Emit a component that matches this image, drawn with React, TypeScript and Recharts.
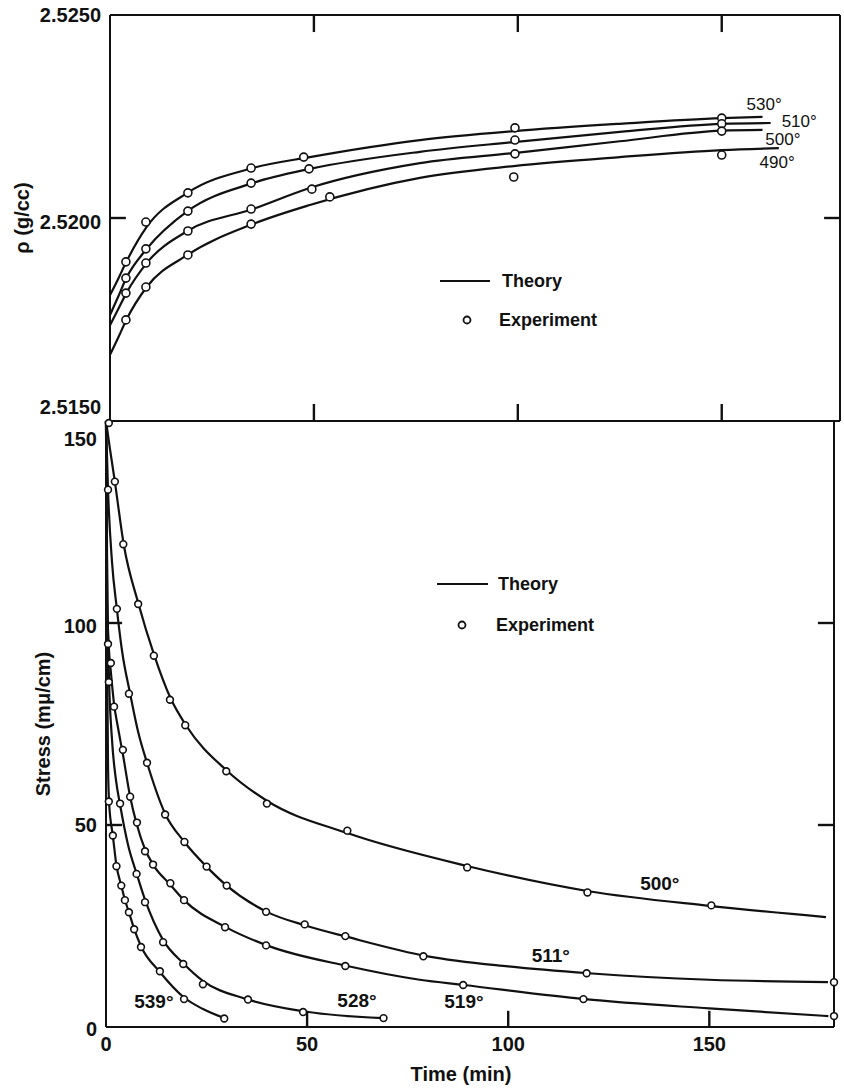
import React from "react";
import {
  ComposedChart,
  Line,
  Scatter,
  XAxis,
  YAxis,
  ReferenceDot,
  ReferenceLine,
  Legend,
  Label,
} from "recharts";

type Pt = [number, number];

// ── top panel: density (g/cc) vs time, theory curves ──
const rho530Theory: Pt[] = [[0, 2.5181], [2, 2.5185], [4, 2.51892], [9, 2.51978], [19, 2.52062], [35, 2.52123], [49, 2.5215], [76, 2.52192], [99, 2.52214], [125, 2.52232], [150, 2.52246], [160, 2.52249]];
const rho510Theory: Pt[] = [[0, 2.51761], [2, 2.51806], [4, 2.51852], [9, 2.51924], [19, 2.52017], [35, 2.52086], [49, 2.52121], [76, 2.52163], [99, 2.52187], [125, 2.52212], [150, 2.52232], [162, 2.52234]];
const rho500Theory: Pt[] = [[0, 2.51736], [2, 2.51775], [4, 2.51815], [9, 2.51889], [19, 2.51968], [35, 2.52022], [49, 2.52074], [76, 2.52135], [99, 2.5216], [125, 2.52189], [150, 2.52215], [160, 2.52217]];
const rho490Theory: Pt[] = [[0, 2.51663], [2, 2.51705], [4, 2.51749], [9, 2.5183], [19, 2.51909], [35, 2.51985], [49, 2.52032], [76, 2.52099], [99, 2.52128], [125, 2.5215], [150, 2.52167], [164, 2.52172]];

// experiment points
const rho530Exp: Pt[] = [[3.9, 2.51892], [8.8, 2.5199], [19.1, 2.52062], [34.6, 2.52123], [47.5, 2.5215], [99.3, 2.52222], [150, 2.52246]];
const rho510Exp: Pt[] = [[3.9, 2.51852], [8.8, 2.51924], [19.1, 2.52017], [34.6, 2.52086], [48.8, 2.52121], [99.3, 2.52192], [150, 2.52232]];
const rho500Exp: Pt[] = [[3.9, 2.51815], [8.8, 2.51889], [19.1, 2.51968], [34.6, 2.52022], [49.5, 2.52071], [99.3, 2.52158], [150, 2.52214]];
const rho490Exp: Pt[] = [[3.9, 2.51749], [8.8, 2.5183], [19.1, 2.51909], [34.6, 2.51985], [53.9, 2.52052], [99, 2.52101], [150, 2.52155]];

const rhoTicks = [2.515, 2.52, 2.525];
const rhoInnerTicks = [2.52];
const timeTicks = [50, 100, 150];

// ── bottom panel: stress (mμ/cm) vs time ──
const s500Theory: Pt[] = [[0, 150], [1, 143], [2.2, 135], [4.4, 119.5], [8, 105], [12, 92], [16, 81.5], [20, 74.5], [30, 63.5], [40, 56], [60, 48], [90, 39.8], [120, 33.6], [150, 30], [179, 27.2]];
const s511Theory: Pt[] = [[0, 150], [0.5, 133], [1.5, 115], [2.7, 103.5], [4, 93], [6, 82.5], [8, 73], [10.2, 65.4], [14.7, 52.8], [19.5, 45.8], [25, 39.7], [30, 35], [40, 28.5], [50, 25], [60, 22.3], [80, 17.5], [100, 15], [120, 13.3], [150, 11.7], [179.5, 11.1]];
const s519Theory: Pt[] = [[0, 150], [0.3, 105], [0.7, 94], [1.2, 88], [2, 80], [3, 74], [4.2, 67.5], [6, 57], [7.7, 50], [9.7, 44], [11.7, 40.2], [16, 35.2], [19.4, 31.4], [30, 24.6], [40, 20.2], [60, 15.1], [78, 11.7], [89, 10.4], [119, 6.9], [150, 4.6], [179.6, 2.7]];
const s528Theory: Pt[] = [[0, 150], [0.3, 112], [0.7, 88], [1.5, 71], [2.5, 61], [3.5, 55], [5.5, 45], [7.6, 38], [9.7, 31.5], [14.2, 21.5], [19.2, 15.8], [24, 11.5], [35, 6.9], [49, 3.9], [69, 2.2]];
const s539Theory: Pt[] = [[0, 150], [0.2, 100], [0.5, 65], [0.8, 55], [1.7, 47.4], [2.6, 40], [3.8, 35], [4.7, 31.5], [5.7, 28.4], [7, 24.3], [8.7, 20], [13.4, 13.6], [19.4, 7.3], [24, 4.5], [29.4, 2.2]];

const s500Exp: Pt[] = [[0.7, 149.5], [2.2, 135], [4.3, 119.5], [8, 104.7], [11.9, 91.9], [15.9, 81], [19.7, 74.7], [29.9, 63.3], [40, 55.3], [60, 48.6], [89.8, 39.5], [119.7, 33.3], [150.5, 30.1]];
const s511Exp: Pt[] = [[0.5, 133], [2.7, 103.5], [5.7, 82.5], [10.2, 65.4], [14.7, 52.6], [19.5, 45.8], [25, 39.7], [30, 35], [39.8, 28.5], [49.4, 25.4], [59.5, 22.5], [78.9, 17.5], [119.5, 13.3], [181, 11.1]];
const s519Exp: Pt[] = [[0.5, 94.8], [1.2, 90.1], [2, 79.3], [4.2, 68.6], [6, 57], [7.7, 50.6], [9.7, 43.5], [11.7, 40.2], [16, 35.6], [19.4, 31.4], [29.6, 24.7], [39.8, 20.2], [59.5, 15.1], [88.8, 10.4], [118.7, 6.9], [181, 2.7]];
const s528Exp: Pt[] = [[0.7, 85.4], [3.5, 55.3], [7.6, 37.9], [9.7, 30.9], [14.2, 21], [19.2, 15.6], [24.1, 10.6], [35.3, 6.8], [49, 3.7], [69, 2.2]];
const s539Exp: Pt[] = [[0.7, 55.8], [1.7, 47.4], [2.6, 39.8], [3.8, 35], [4.7, 31.4], [5.7, 28.4], [7, 24.2], [8.7, 19.8], [13.4, 13.8], [19.4, 6.9], [29.4, 2.1]];

const stressTicks = [0, 50, 100, 150];
const stressInnerTicks = [50, 100];
const stressXTicks = [0, 50, 100, 150];

// curve labels (anchor in data units)
const rhoLabels = [
  { text: "530°", t: 160.4, v: 2.52281 },
  { text: "510°", t: 169.0, v: 2.52239 },
  { text: "500°", t: 165.0, v: 2.52195 },
  { text: "490°", t: 163.6, v: 2.52138 },
];
const stressLabels = [
  { text: "500°", t: 137.7, v: 35.6 },
  { text: "511°", t: 110.6, v: 17.8 },
  { text: "519°", t: 89.0, v: 6.4 },
  { text: "528°", t: 62.4, v: 6.7 },
  { text: "539°", t: 11.9, v: 6.4 },
];

const INK = "#111";
const FONT = "'Liberation Sans', Arial, sans-serif";
const tickFont = { fontFamily: FONT, fontSize: 20, fontWeight: 700, fill: INK };
const rows = (pts: Pt[]) => pts.map(([t, v]) => ({ t, v }));

// axis ranges and inward tick lengths (in axis units, ~16px)
const RHO_X: [number, number] = [0, 179];
const RHO_Y: [number, number] = [2.515, 2.525];
const S_X: [number, number] = [0, 181];
const S_Y: [number, number] = [0, 150];
const RHO_TICK_Y = 0.00042, RHO_TICK_X = 3.9;
const S_TICK_Y = 4, S_TICK_X = 4;

const openCircle = (r: number) => (props: any) =>
  <circle cx={props.cx} cy={props.cy} r={r} fill="#fff" stroke={INK} strokeWidth={1.6} />;

const near = (a: number, list: number[]) => list.some((b) => Math.abs(a - b) < 1e-6);

function RhoTick({ x, y, payload }: any) {
  const v = payload.value;
  const shift = near(v, [2.515]) ? -14 : near(v, [2.52]) ? 4 : 0;
  return (
    <text x={x - 9} y={y + shift} textAnchor="end" dominantBaseline="central" style={tickFont}>
      {v.toFixed(4)}
    </text>
  );
}

function StressTick({ x, y, payload }: any) {
  const v = payload.value;
  const shift = v === 150 ? 18 : v === 100 ? 3 : v === 0 ? 2 : 0;
  return (
    <text x={x - 9} y={y + shift} textAnchor="end" dominantBaseline="central" style={tickFont}>
      {v}
    </text>
  );
}

function StressTimeTick({ x, y, payload }: any) {
  return (
    <text x={x} y={y + 17} textAnchor="middle" dominantBaseline="central" style={tickFont}>
      {payload.value}
    </text>
  );
}

const yTitle = (text: string, dx: number) => (props: any) => {
  const vb = props.viewBox;
  const cx = vb.x + dx;
  const cy = vb.y + vb.height / 2;
  return (
    <text x={cx} y={cy} transform={`rotate(-90, ${cx}, ${cy})`} textAnchor="middle" dominantBaseline="central" style={tickFont}>
      {text}
    </text>
  );
};

function LegendBox({ lineY, dotY, lineX0, lineX1, dotX, textX1, textX2 }: any) {
  return (
    <svg width={200} height={72} style={{ display: "block" }}>
      <line x1={lineX0} x2={lineX1} y1={lineY} y2={lineY} stroke={INK} strokeWidth={2} />
      <text x={textX1} y={lineY} dominantBaseline="central" style={{ ...tickFont, fontSize: 18 }}>Theory</text>
      <circle cx={dotX} cy={dotY} r={3.5} fill="#fff" stroke={INK} strokeWidth={1.8} />
      <text x={textX2} y={dotY} dominantBaseline="central" style={{ ...tickFont, fontSize: 18 }}>Experiment</text>
    </svg>
  );
}

const axisStroke = { stroke: INK, strokeWidth: 2 };

// inward tick marks on all four sides, built from the tick value lists
function innerTicks(key: string, xs: number[], ys: number[], xr: [number, number], yr: [number, number],
  dx: number, dy: number, topToo: boolean) {
  const segs: { x: number; y: number }[][] = [];
  xs.forEach((t) => {
    segs.push([{ x: t, y: yr[0] }, { x: t, y: yr[0] + dy }]);
    if (topToo) segs.push([{ x: t, y: yr[1] }, { x: t, y: yr[1] - dy }]);
  });
  ys.forEach((v) => {
    segs.push([{ x: xr[0], y: v }, { x: xr[0] + dx, y: v }]);
    segs.push([{ x: xr[1] - dx, y: v }, { x: xr[1], y: v }]);
  });
  return segs.map((s, i) => (
    <ReferenceLine key={`${key}${i}`} segment={s} stroke={INK} strokeWidth={2.4} ifOverflow="visible" />
  ));
}

export default function App() {
  const rhoTheory = [rho530Theory, rho510Theory, rho500Theory, rho490Theory];
  const rhoExp = [rho530Exp, rho510Exp, rho500Exp, rho490Exp];
  const sTheory = [s500Theory, s511Theory, s519Theory, s528Theory, s539Theory];
  const sExp = [s500Exp, s511Exp, s519Exp, s528Exp, s539Exp];

  return (
    <div style={{ position: "absolute", left: 0, top: 0, width: 844, height: 1091, background: "#fff" }}>
      {/* top panel */}
      <div style={{ position: "absolute", left: 0, top: 0 }}>
        <ComposedChart width={844} height={460} margin={{ top: 15, right: 4, bottom: 9, left: 0 }}>
          <XAxis dataKey="t" type="number" domain={RHO_X} ticks={timeTicks} height={30}
            tick={false} tickLine={false} axisLine={axisStroke} />
          <XAxis xAxisId="top" orientation="top" type="number" domain={RHO_X} mirror
            tick={false} tickLine={false} axisLine={axisStroke} />
          <YAxis dataKey="v" type="number" domain={RHO_Y} ticks={rhoTicks} width={110}
            tickSize={0} tickMargin={0} tickLine={false} axisLine={axisStroke} tick={<RhoTick />}>
            <Label content={yTitle("ρ (g/cc)", 22)} />
          </YAxis>
          <YAxis yAxisId="right" orientation="right" type="number" domain={RHO_Y} mirror
            tick={false} tickLine={false} axisLine={axisStroke} />
          {innerTicks("rt", timeTicks, rhoInnerTicks, RHO_X, RHO_Y, RHO_TICK_X, RHO_TICK_Y, true)}
          {rhoTheory.map((d, i) => (
            <Line key={`rt${i}`} data={rows(d)} dataKey="v" type="monotone" dot={false} stroke={INK}
              strokeWidth={2.2} isAnimationActive={false} />
          ))}
          {rhoExp.map((d, i) => (
            <Scatter key={`re${i}`} data={rows(d)} dataKey="v" shape={openCircle(4)} isAnimationActive={false} />
          ))}
          {rhoLabels.map((l) => (
            <ReferenceDot key={l.text} x={l.t} y={l.v} r={0} fill="none" stroke="none"
              label={{ value: l.text, position: "center", fontSize: 17, fill: INK, fontFamily: FONT }} />
          ))}
          <Legend layout="horizontal" verticalAlign="middle" align="center"
            wrapperStyle={{ left: 436, top: 268, width: 200, height: 72 }}
            content={() => <LegendBox lineY={13} dotY={52} lineX0={4} lineX1={54} dotX={31} textX1={66} textX2={63} />} />
        </ComposedChart>
      </div>

      {/* bottom panel */}
      <div style={{ position: "absolute", left: 0, top: 400 }}>
        <ComposedChart width={844} height={691} margin={{ top: 21, right: 10, bottom: 34, left: 0 }}>
          <XAxis dataKey="t" type="number" domain={S_X} ticks={stressXTicks} height={30}
            tickSize={0} tickMargin={0} tickLine={false} axisLine={axisStroke} tick={<StressTimeTick />}>
            <Label value="Time (min)" position="bottom" offset={10} dx={-9} style={tickFont} />
          </XAxis>
          <YAxis dataKey="v" type="number" domain={S_Y} ticks={stressTicks} width={106}
            tickSize={0} tickMargin={0} tickLine={false} axisLine={axisStroke} tick={<StressTick />}>
            <Label content={yTitle("Stress (mμ/cm)", 43)} />
          </YAxis>
          <YAxis yAxisId="right" orientation="right" type="number" domain={S_Y} mirror
            tick={false} tickLine={false} axisLine={axisStroke} />
          {innerTicks("st", timeTicks, stressInnerTicks, S_X, S_Y, S_TICK_X, S_TICK_Y, false)}
          {sTheory.map((d, i) => (
            <Line key={`st${i}`} data={rows(d)} dataKey="v" type="monotone" dot={false} stroke={INK}
              strokeWidth={2.2} isAnimationActive={false} />
          ))}
          {sExp.map((d, i) => (
            <Scatter key={`se${i}`} data={rows(d)} dataKey="v" shape={openCircle(3.4)} isAnimationActive={false} />
          ))}
          {stressLabels.map((l) => (
            <ReferenceDot key={l.text} x={l.t} y={l.v} r={0} fill="none" stroke="none"
              label={{ value: l.text, position: "center", fontSize: 19, fontWeight: 700, fill: INK, fontFamily: FONT }} />
          ))}
          <Legend layout="horizontal" verticalAlign="middle" align="center"
            wrapperStyle={{ left: 434, top: 171, width: 200, height: 72 }}
            content={() => <LegendBox lineY={13} dotY={54} lineX0={3} lineX1={54} dotX={28} textX1={64} textX2={62} />} />
        </ComposedChart>
      </div>
    </div>
  );
}
